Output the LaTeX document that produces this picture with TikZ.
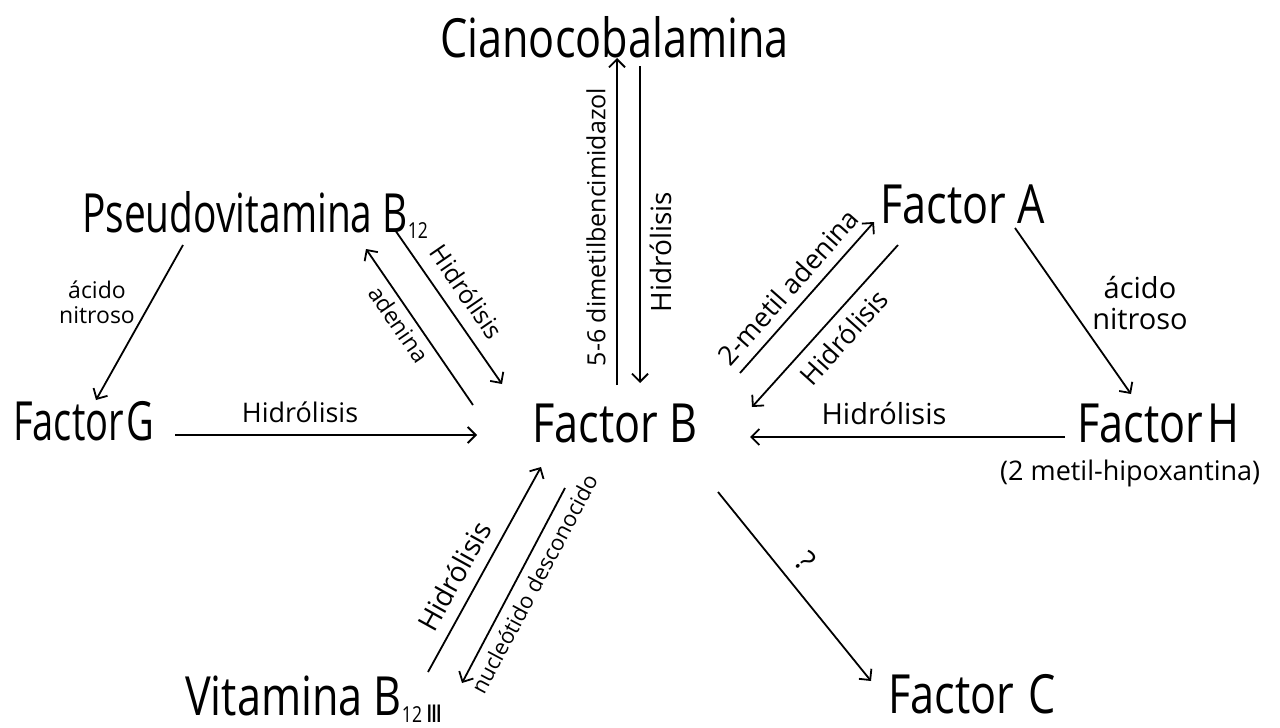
\documentclass[tikz,border=0pt]{standalone}
\usepackage{fontspec}
\setmainfont{Open Sans}
\newfontfamily\bigf{Open Sans}[FakeStretch=0.8]
\newfontfamily\dejavu{DejaVu Sans}
\usetikzlibrary{arrows.meta}
\newcommand{\fsz}[1]{\fontsize{#1}{#1}\selectfont}
\begin{document}
\begin{tikzpicture}[x=1pt,y=-1pt,
  big/.style={font=\bigf\fsz{54}, inner sep=0pt, anchor=base west},
  lab/.style={inner sep=0pt},
  arr/.style={line width=1.8pt, -{Straight Barb[length=8pt,width=16pt,line width=1.8pt]}},
]
\useasboundingbox[fill=white] (0,0) rectangle (1280,728);

% main nodes
\node[big] (cian) at (440,57) {Cianocobalamina};
\node[big] (pseudo) at (82,232) {\scalebox{0.9}[1]{Pseudovitamina B}\raisebox{-6pt}{\fsz{22}12}};
\node[big] (fG) at (13,440) {\scalebox{0.88}[1]{Factor\hspace{3pt}G}};
\node[big] (fB) at (532,442) {Factor B};
\node[big] (fA) at (880,223) {Factor A};
\node[big] (fH) at (1077,442) {Factor\hspace{4pt}H};
\node[lab, font=\fsz{27}, anchor=base west] (hipo) at (1000,480) {(2 metil-hipoxantina)};
\node[big] (vit) at (185,715) {Vitamina B\raisebox{-7pt}{\fsz{22}12\,{\dejavu\fsz{24}Ⅲ}}};
\node[big] (fC) at (888,713) {Factor\hspace{14pt}C};

% connector end points
\coordinate (c1) at (617,385); \coordinate (c2) at (617,58);
\coordinate (c3) at (640,66);  \coordinate (c4) at (640,383);
\coordinate (p1) at (183,245); \coordinate (p2) at (96,400);
\coordinate (p3) at (395,230); \coordinate (p4) at (502,384);
\coordinate (p5) at (473,405); \coordinate (p6) at (366,249);
\coordinate (g1) at (175,435); \coordinate (g2) at (477,435);
\coordinate (a1) at (740,373); \coordinate (a2) at (874,222);
\coordinate (a3) at (898,245); \coordinate (a4) at (752,407);
\coordinate (a5) at (1015,228); \coordinate (a6) at (1131,394);
\coordinate (h1) at (1065,437); \coordinate (h2) at (750,437);
\coordinate (v1) at (428,672); \coordinate (v2) at (541,467);
\coordinate (v3) at (565,488); \coordinate (v4) at (462,683);
\coordinate (x1) at (718,492); \coordinate (x2) at (871,681);

% connectors
\draw[arr] (c1) -- (c2);
\draw[arr] (c3) -- (c4);
\draw[arr] (p1) -- (p2);
\draw[arr] (p3) -- (p4);
\draw[arr] (p5) -- (p6);
\draw[arr] (g1) -- (g2);
\draw[arr] (a1) -- (a2);
\draw[arr] (a3) -- (a4);
\draw[arr] (a5) -- (a6);
\draw[arr] (h1) -- (h2);
\draw[arr] (v1) -- (v2);
\draw[arr] (v3) -- (v4);
\draw[arr] (x1) -- (x2);

% labels
\node[lab, font=\fsz{25}, rotate=90] (l1) at (596,227) {5-6 dimetilbencimidazol};
\node[lab, font=\fsz{28}, rotate=90] (l2) at (661,252) {Hidrólisis};
\node[lab, font=\fsz{23}, align=center] (l3) at (97,302) {ácido\\[2pt]nitroso};
\node[lab, font=\fsz{25}, rotate=-55.5] (l4) at (467,292) {Hidrólisis};
\node[lab, font=\fsz{23}, rotate=-55.5] (l5) at (399,324) {adenina};
\node[lab, font=\fsz{27}] (l6) at (300,412) {Hidrólisis};
\node[lab, font=\fsz{27}, rotate=48.5] (l7) at (788,287) {2-metil adenina};
\node[lab, font=\fsz{27}, rotate=48] (l8) at (844,337) {Hidrólisis};
\node[lab, font=\fsz{29}, align=center] (l9) at (1140,303) {ácido\\[2pt]nitroso};
\node[lab, font=\fsz{29}] (l10) at (884,414) {Hidrólisis};
\node[lab, font=\fsz{28}, rotate=61] (l11) at (454,576) {Hidrólisis};
\node[lab, font=\fsz{22}, rotate=62] (l12) at (534,584) {nucleótido desconocido};
\node[lab, font=\fsz{30}, rotate=-48] (l13) at (806,561) {?};
\end{tikzpicture}
\end{document}
